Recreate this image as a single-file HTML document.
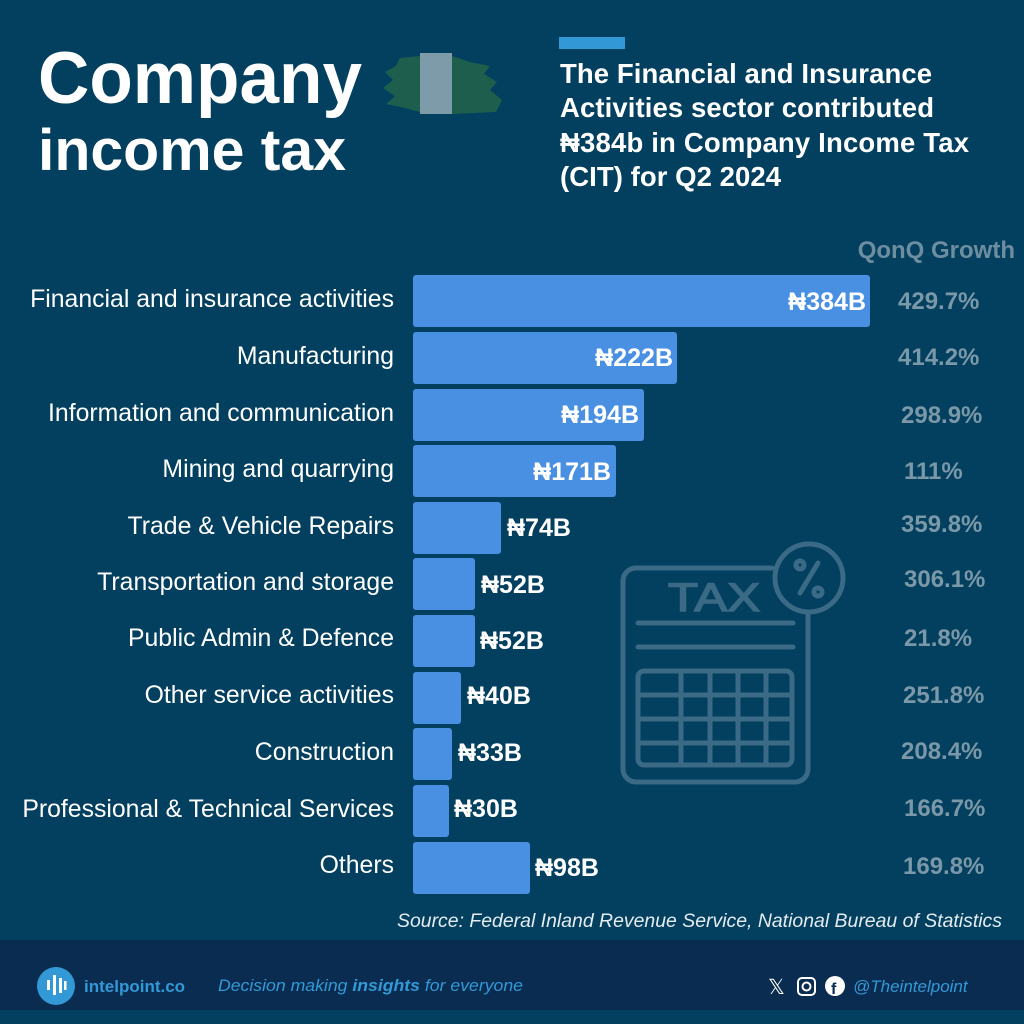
<!DOCTYPE html>
<html><head><meta charset="utf-8"><style>
html,body{margin:0;padding:0;background:#033f5e;}
svg{display:block;font-family:"Liberation Sans",sans-serif;}
</style></head><body>
<svg width="1024" height="1024" viewBox="0 0 1024 1024" xmlns="http://www.w3.org/2000/svg">
<rect width="1024" height="1024" fill="#033f5e"/>
<text x="38" y="103" font-size="73" font-weight="bold" fill="#fff" textLength="324" lengthAdjust="spacingAndGlyphs">Company</text>
<text x="38" y="170" font-size="58" font-weight="bold" fill="#fff" textLength="308" lengthAdjust="spacingAndGlyphs">income tax</text>
<g>
<polygon points="400,58 420,56 420,112 405,108 386,104 395,96 383,88 393,80 385,72 396,66" fill="#1d5f4c"/>
<polygon points="452,56 470,62 490,66 484,74 497,82 490,90 502,100 496,112 452,114" fill="#1d5f4c"/>
<rect x="420" y="53" width="32" height="61" fill="#7d9ba8"/>
</g>
<rect x="559" y="37" width="66" height="12" fill="#3399d6"/>
<g font-size="27.5" font-weight="bold" fill="#fff" lengthAdjust="spacingAndGlyphs">
<text x="560" y="83" textLength="372">The Financial and Insurance</text>
<text x="560" y="117" textLength="374">Activities sector contributed</text>
<text x="560" y="152" textLength="409">₦384b in Company Income Tax</text>
<text x="560" y="186" textLength="221">(CIT) for Q2 2024</text>
</g>
<text x="1015" y="258" font-size="24" font-weight="bold" fill="#6d8ea0" text-anchor="end">QonQ Growth</text>
<g fill="none" stroke="#3a6a85" stroke-width="5" stroke-linecap="round">
<path d="M772,568 H636 a13,13 0 0 0 -13,13 V769 a13,13 0 0 0 13,13 H795 a13,13 0 0 0 13,-13 V613"/>
<circle cx="809" cy="578" r="34"/>
<line x1="638" y1="623" x2="793" y2="623"/>
<line x1="638" y1="647" x2="793" y2="647"/>
<rect x="638" y="671" width="154" height="94" rx="6"/>
<line x1="681" y1="671" x2="681" y2="765"/>
<line x1="710" y1="671" x2="710" y2="765"/>
<line x1="738" y1="671" x2="738" y2="765"/>
<line x1="766" y1="671" x2="766" y2="765"/>
<line x1="638" y1="695" x2="792" y2="695"/>
<line x1="638" y1="719" x2="792" y2="719"/>
<line x1="638" y1="743" x2="792" y2="743"/>
<line x1="800" y1="593" x2="818" y2="563"/>
<circle cx="800" cy="565" r="4"/>
<circle cx="818" cy="592" r="4"/>
</g>
<text x="668" y="611" font-size="40" fill="#3a6a85" stroke="#3a6a85" stroke-width="1.5" textLength="92" lengthAdjust="spacingAndGlyphs">TAX</text>
<g fill="#4a90e2">
<rect x="413" y="275" width="457" height="52" rx="3"/>
<rect x="413" y="332" width="264" height="52" rx="3"/>
<rect x="413" y="389" width="231" height="52" rx="3"/>
<rect x="413" y="445" width="203" height="52" rx="3"/>
<rect x="413" y="502" width="88" height="52" rx="3"/>
<rect x="413" y="558" width="62" height="52" rx="3"/>
<rect x="413" y="615" width="62" height="52" rx="3"/>
<rect x="413" y="672" width="48" height="52" rx="3"/>
<rect x="413" y="728" width="39" height="52" rx="3"/>
<rect x="413" y="785" width="36" height="52" rx="3"/>
<rect x="413" y="842" width="117" height="52" rx="3"/>
</g>
<g font-size="24.8" fill="#fff" text-anchor="end">
<text x="394" y="307">Financial and insurance activities</text>
<text x="394" y="364">Manufacturing</text>
<text x="394" y="421">Information and communication</text>
<text x="394" y="477">Mining and quarrying</text>
<text x="394" y="534">Trade &amp; Vehicle Repairs</text>
<text x="394" y="590">Transportation and storage</text>
<text x="394" y="646">Public Admin &amp; Defence</text>
<text x="394" y="703">Other service activities</text>
<text x="394" y="760">Construction</text>
<text x="394" y="817">Professional &amp; Technical Services</text>
<text x="394" y="873">Others</text>
</g>
<g font-size="25" font-weight="bold" fill="#fff">
<text x="866" y="310" text-anchor="end">₦384B</text>
<text x="673" y="366" text-anchor="end">₦222B</text>
<text x="639" y="423" text-anchor="end">₦194B</text>
<text x="611" y="480" text-anchor="end">₦171B</text>
<text x="507" y="536">₦74B</text>
<text x="481" y="593">₦52B</text>
<text x="480" y="649">₦52B</text>
<text x="467" y="704">₦40B</text>
<text x="458" y="761">₦33B</text>
<text x="454" y="817">₦30B</text>
<text x="535" y="876">₦98B</text>
</g>
<g font-size="24" font-weight="bold" fill="#7a98a8">
<text x="898" y="309">429.7%</text>
<text x="898" y="365">414.2%</text>
<text x="901" y="423">298.9%</text>
<text x="904" y="479">111%</text>
<text x="901" y="532">359.8%</text>
<text x="904" y="587">306.1%</text>
<text x="904" y="646">21.8%</text>
<text x="903" y="703">251.8%</text>
<text x="901" y="759">208.4%</text>
<text x="904" y="816">166.7%</text>
<text x="903" y="874">169.8%</text>
</g>
<text x="1002" y="927" font-size="19" font-style="italic" fill="#e4ecf0" text-anchor="end" textLength="605" lengthAdjust="spacingAndGlyphs">Source: Federal Inland Revenue Service, National Bureau of Statistics</text>
<rect x="0" y="940" width="1024" height="70" fill="#0a2c50"/>
<circle cx="56" cy="986" r="19" fill="#3399d6"/>
<g fill="#fff"><rect x="47" y="980" width="3" height="10"/><rect x="53" y="975" width="3" height="20"/><rect x="59" y="978" width="3" height="15"/><rect x="64" y="981" width="2.5" height="9"/></g>
<text x="84" y="992" font-size="17" font-weight="bold" fill="#3399d6">intelpoint.co</text>
<text x="218" y="991" font-size="17" font-style="italic" fill="#3399d6" textLength="305" lengthAdjust="spacingAndGlyphs">Decision making <tspan font-weight="bold">insights</tspan> for everyone</text>
<text x="768" y="994" font-size="21" fill="#fff">𝕏</text>
<rect x="798" y="978" width="17" height="17" rx="4" fill="none" stroke="#fff" stroke-width="2"/>
<circle cx="806.5" cy="986.5" r="4" fill="none" stroke="#fff" stroke-width="2"/>
<circle cx="835" cy="986" r="10" fill="#fff"/>
<text x="831" y="994" font-size="16" font-weight="bold" fill="#0a2c50">f</text>
<text x="853" y="992" font-size="17" font-style="italic" fill="#3399d6">@Theintelpoint</text>
</svg>
</body></html>
